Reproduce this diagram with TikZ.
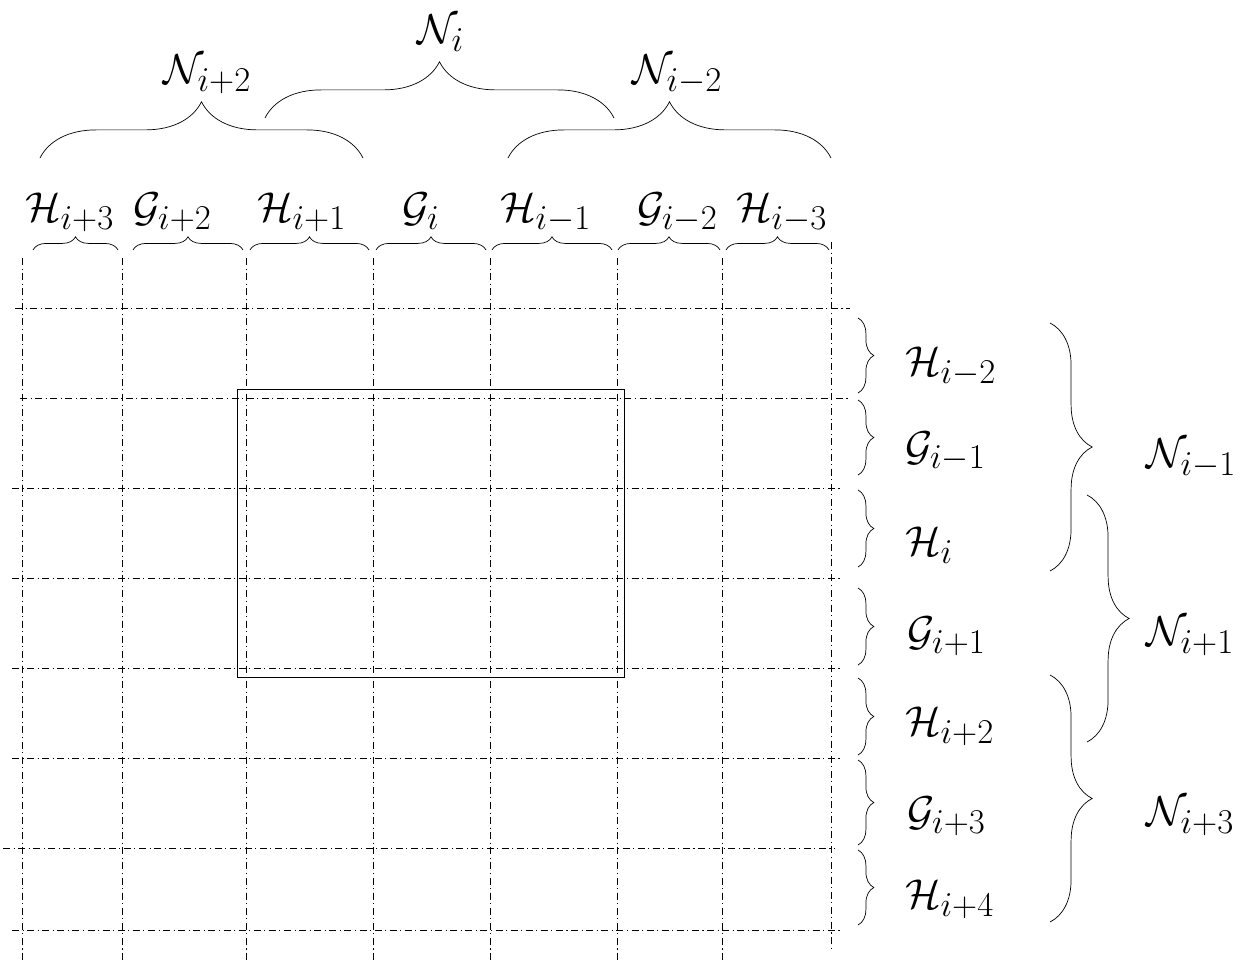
\documentclass[tikz,border=0pt]{standalone}
\usetikzlibrary{decorations.pathreplacing}
\newcommand{\lab}[1]{\scalebox{0.955}{$#1$}}
\begin{document}
\begin{tikzpicture}[x=0.02cm, y=-0.02cm,
    gridline/.style={line width=0.45pt, dash pattern=on 4pt off 2pt on 0.6pt off 2pt},
    colbrace/.style={decorate, decoration={brace, amplitude=7.5pt}},
    rowbrace/.style={decorate, decoration={brace, amplitude=9pt}},
    topbrace/.style={decorate, decoration={brace, amplitude=32pt}},
    sidebrace/.style={decorate, decoration={brace, amplitude=24pt}},
    lbl/.style={font=\Huge, inner sep=0pt, anchor=base west}
]
\useasboundingbox (0,0) rectangle (1248,961);

% grid
\foreach \x in {22,122,246,373,490,617,722}
  \draw[gridline] (\x,258) -- (\x,960);
\draw[gridline] (831,242) -- (831,948);
\foreach \y/\a/\b in {308/15/850, 398/20/850, 488/12/840, 578/12/840,
                      668/12/840, 758/12/840, 848/3/835, 930/12/840}
  \draw[gridline] (\a,\y) -- (\b,\y);

% window
\draw[line width=0.45pt] (237,389) rectangle (624,677);

% column braces and labels
\foreach \a/\b in {33/118, 133/243, 250/369, 376/486, 492/612, 618/720, 726/829}
  \draw[colbrace] (\a,250) -- (\b,250);
\node[lbl] (h3) at (25,221) {\lab{\mathcal{H}_{i+3}}};
\node[lbl] (g2) at (133,221) {\lab{\mathcal{G}_{i+2}}};
\node[lbl] (h1) at (257,221) {\lab{\mathcal{H}_{i+1}}};
\node[lbl] (g0) at (402,221) {\lab{\mathcal{G}_{i}}};
\node[lbl] (hm1) at (500,221) {\lab{\mathcal{H}_{i-1}}};
\node[lbl] (gm2) at (637,221) {\lab{\mathcal{G}_{i-2}}};
\node[lbl] (hm3) at (736,221) {\lab{\mathcal{H}_{i-3}}};

% neighbourhoods on top
\draw[topbrace] (40,158) -- (363,158);
\draw[topbrace] (265,118) -- (614,118);
\draw[topbrace] (508,158) -- (831,158);
\node[lbl] (n2) at (163,83) {\lab{\mathcal{N}_{i+2}}};
\node[lbl] (n0) at (417,43) {\lab{\mathcal{N}_{i}}};
\node[lbl] (nm2) at (632,83) {\lab{\mathcal{N}_{i-2}}};

% row braces and labels
\foreach \a/\b in {318/393, 400/475, 490/567, 588/665, 678/755, 760/845, 850/925}
  \draw[rowbrace] (858,\a) -- (858,\b);
\node[lbl] (hm2) at (905,375) {\lab{\mathcal{H}_{i-2}}};
\node[lbl] (gm1) at (905,460) {\lab{\mathcal{G}_{i-1}}};
\node[lbl] (h0) at (905,555) {\lab{\mathcal{H}_{i}}};
\node[lbl] (g1) at (907,645) {\lab{\mathcal{G}_{i+1}}};
\node[lbl] (h2) at (905,735) {\lab{\mathcal{H}_{i+2}}};
\node[lbl] (g3) at (907,825) {\lab{\mathcal{G}_{i+3}}};
\node[lbl] (h4) at (905,908) {\lab{\mathcal{H}_{i+4}}};

% neighbourhoods on the side
\draw[sidebrace] (1050,323) -- (1050,571);
\draw[sidebrace] (1087,495) -- (1087,742);
\draw[sidebrace] (1050,675) -- (1050,922);
\node[lbl] (nm1) at (1146,467) {\lab{\mathcal{N}_{i-1}}};
\node[lbl] (n1) at (1146,645) {\lab{\mathcal{N}_{i+1}}};
\node[lbl] (n3) at (1146,825) {\lab{\mathcal{N}_{i+3}}};
\end{tikzpicture}
\end{document}
